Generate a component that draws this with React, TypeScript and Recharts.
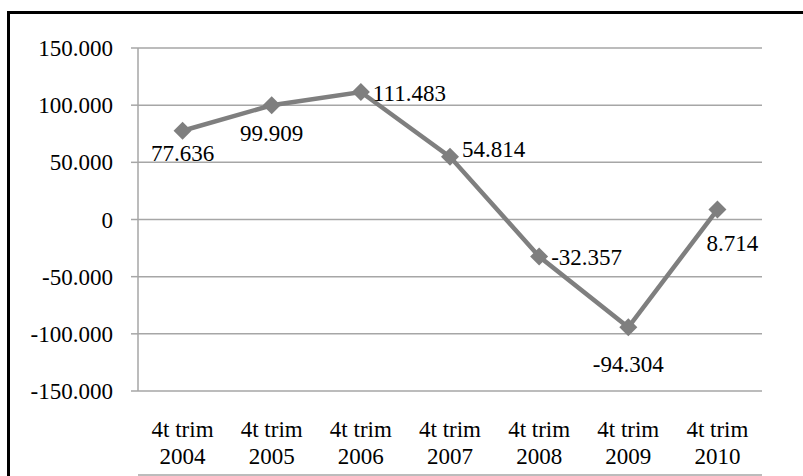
import { CartesianGrid, LabelList, Line, LineChart, XAxis, YAxis } from "recharts";

/* Saldo al 4t trimestre de cada any */
const categories = [
  "4t trim 2004",
  "4t trim 2005",
  "4t trim 2006",
  "4t trim 2007",
  "4t trim 2008",
  "4t trim 2009",
  "4t trim 2010",
];
const values = [77636, 99909, 111483, 54814, -32357, -94304, 8714];
const yTicks = [-150000, -100000, -50000, 0, 50000, 100000, 150000];

// where each value label sits relative to its point (dx, dy of text centre)
const labelOffsets = [
  { dx: 0, dy: 22, anchor: "middle" },
  { dx: 0, dy: 28, anchor: "middle" },
  { dx: 12, dy: 1, anchor: "start" },
  { dx: 12, dy: -8, anchor: "start" },
  { dx: 12, dy: 0, anchor: "start" },
  { dx: 0, dy: 37, anchor: "middle" },
  { dx: 15, dy: 33, anchor: "middle" },
];

const data = categories.map((c, i) => ({ idx: i, label: c, value: values[i] }));
const edgeTicks = categories.map((_, i) => i - 0.5).concat(categories.length - 0.5);
const centreTicks = categories.map((_, i) => i);

const FONT = "'Liberation Serif', 'Times New Roman', serif";
const GRID = "#a6a6a6";
const LINE = "#7f7f7f";

const fmt = (n: number) => {
  const s = Math.abs(n)
    .toString()
    .replace(/\B(?=(\d{3})+(?!\d))/g, ".");
  return (n < 0 ? "-" : "") + s;
};

const Diamond = (props: any) => {
  const { cx, cy } = props;
  if (cx == null || cy == null) return null;
  const r = 9;
  return (
    <path
      d={`M${cx} ${cy - r} L${cx + r} ${cy} L${cx} ${cy + r} L${cx - r} ${cy} Z`}
      fill={LINE}
    />
  );
};

const CategoryTick = (props: any) => {
  const { x, y, payload } = props;
  const text: string = categories[payload.value] ?? "";
  const cut = text.lastIndexOf(" ");
  return (
    <text x={x} y={y} textAnchor="middle" fill="#000" fontSize={23} fontFamily={FONT}>
      <tspan x={x} dy={46}>
        {text.slice(0, cut)}
      </tspan>
      <tspan x={x} dy={27}>
        {text.slice(cut + 1)}
      </tspan>
    </text>
  );
};

const ValueLabel = (props: any) => {
  const { x, y, index, value } = props;
  const o = labelOffsets[index] ?? { dx: 0, dy: 0, anchor: "middle" };
  return (
    <text
      x={x + o.dx}
      y={y + o.dy}
      dy="0.35em"
      textAnchor={o.anchor}
      fill="#000"
      fontSize={23}
      fontFamily={FONT}
    >
      {fmt(value)}
    </text>
  );
};

export default function App() {
  return (
    <div
      style={{
        position: "fixed",
        left: 0,
        top: 0,
        width: 803,
        height: 476,
        background: "#fff",
        overflow: "hidden",
      }}
    >
      <div
        style={{
          position: "absolute",
          left: 7,
          top: 11,
          width: 820,
          height: 500,
          border: "3px solid #000",
        }}
      />
      <div style={{ position: "absolute", left: 0, top: 0 }}>
        <LineChart
          width={803}
          height={476}
          data={data}
          margin={{ top: 48, right: 41, bottom: 0, left: 8 }}
        >
          <CartesianGrid vertical={false} stroke={GRID} strokeWidth={1.5} />
          <XAxis
            xAxisId="edges"
            dataKey="idx"
            type="number"
            domain={[-0.5, categories.length - 0.5]}
            ticks={edgeTicks}
            height={1}
            tick={false}
            tickSize={7}
            axisLine={{ stroke: GRID, strokeWidth: 1.5 }}
            tickLine={{ stroke: GRID, strokeWidth: 1.5 }}
          />
          <XAxis
            dataKey="idx"
            type="number"
            domain={[-0.5, categories.length - 0.5]}
            ticks={centreTicks}
            height={84}
            axisLine={false}
            tickLine={false}
            tickSize={0}
            tickMargin={0}
            tick={<CategoryTick />}
            interval={0}
          />
          <YAxis
            width={130}
            domain={[-150000, 150000]}
            ticks={yTicks}
            tickFormatter={fmt}
            tickSize={7}
            tickMargin={18}
            axisLine={{ stroke: GRID, strokeWidth: 1.5 }}
            tickLine={{ stroke: GRID, strokeWidth: 1.5 }}
            tick={{ fill: "#000", fontSize: 23, fontFamily: FONT }}
            interval={0}
          />
          <Line
            dataKey="value"
            stroke={LINE}
            strokeWidth={4.5}
            dot={<Diamond />}
            activeDot={false}
            isAnimationActive={false}
          >
            <LabelList dataKey="value" content={<ValueLabel />} />
          </Line>
        </LineChart>
      </div>
    </div>
  );
}
